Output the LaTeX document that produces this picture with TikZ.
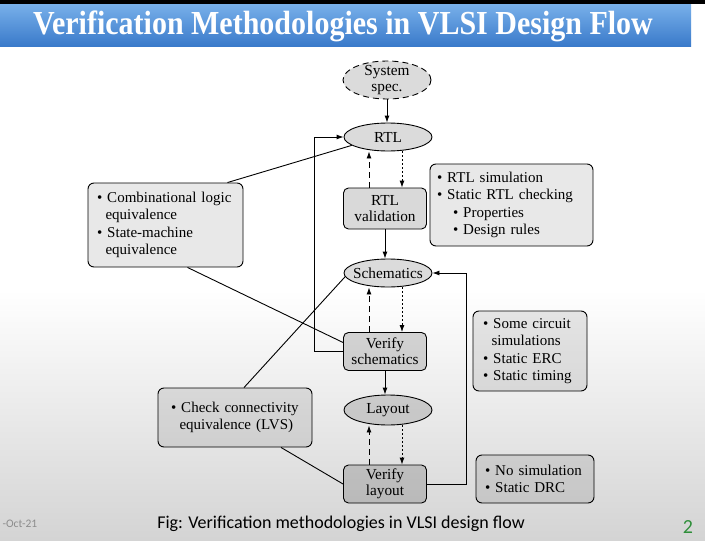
\documentclass[tikz,border=0pt]{standalone}
\usepackage{fontspec}
\setmainfont{Liberation Serif}
\newfontfamily\footfont{Carlito}
\usetikzlibrary{shapes.geometric,arrows.meta}
\definecolor{barTop}{HTML}{78B0EA}
\definecolor{barBot}{HTML}{3A7ACA}
\definecolor{pgGreen}{HTML}{2F8F3A}
\newcommand\mybul{\textbullet\ }
\newcommand\myind{\hspace*{8.5pt}}
\newcommand\myline[1]{\mbox{#1}}
\begin{document}
\begin{tikzpicture}[x=1pt,y=-1pt,
 proc/.style={draw,line width=0.9pt,rounded corners=5pt,fill=black,fill opacity=0.15,text opacity=1,draw opacity=1,align=center,inner sep=0pt,minimum width=83pt,font=\fontsize{15.3}{16}\selectfont},
 ell/.style={ellipse,draw,line width=0.9pt,fill=black,fill opacity=0.14,text opacity=1,draw opacity=1,align=center,inner sep=0pt,minimum width=88pt,font=\fontsize{15.3}{16}\selectfont},
 note/.style={draw,line width=0.9pt,rounded corners=6pt,fill=black,fill opacity=0.09,text opacity=1,draw opacity=1,align=left,inner ysep=0pt,font=\fontsize{15}{17.3}\selectfont},
 arr/.style={line width=0.9pt,-{Latex[length=7pt,width=5pt]}},
 conn/.style={line width=0.9pt},
 dsh/.style={dash pattern=on 6pt off 4pt},
 dtt/.style={dash pattern=on 2pt off 2pt}]

\useasboundingbox (0,0) rectangle (705,541);
\fill[white] (0,0) rectangle (705,541);
\shade[top color=white,bottom color=black!17] (0,290) rectangle (705,541);
\fill[black] (0,0) rectangle (705,4);
\shade[top color=barTop,bottom color=barBot] (0,4) rectangle (691,46);

\node[text=white,font=\bfseries\fontsize{30}{32}\selectfont] (title) at (343,26.5) {\scalebox{1}[1.12]{Verification Methodologies in VLSI Design Flow}};

% main column
\node[ell,dsh,minimum height=38pt,inner sep=-2.5pt] (spec) at (387,80) {System\\spec.};
\node[ell,minimum height=28pt] (rtl) at (388,137) {RTL};
\node[proc,minimum height=41pt] (rtlval) at (385,208.5) {RTL\\validation};
\node[ell,minimum height=28pt,inner xsep=-5pt] (sch) at (388,273) {Schematics};
\node[proc,minimum height=38pt] (vsch) at (385,351.5) {Verify\\schematics};
\node[ell,minimum height=30pt] (lay) at (388,410) {Layout};
\node[proc,minimum height=38pt] (vlay) at (385,484) {Verify\\layout};

% notes
\node[note,text width=137pt,minimum height=84pt,inner xsep=9pt] (comb) at (165.5,225) {\myline{\mybul Combinational logic}\\\myline{\myind equivalence}\\\myline{\mybul State-machine}\\\myline{\myind equivalence}};
\node[note,text width=149pt,minimum height=82pt,inner xsep=7pt] (rtlsim) at (511.5,205) {\myline{\mybul RTL simulation}\\\myline{\mybul Static RTL checking}\\\myline{\hspace*{16pt}\mybul Properties}\\\myline{\hspace*{16pt}\mybul Design rules}};
\node[note,text width=94pt,minimum height=80pt,inner xsep=10pt] (circ) at (530,351) {\myline{\mybul Some circuit}\\\myline{\myind simulations}\\\myline{\mybul Static ERC}\\\myline{\mybul Static timing}};
\node[note,text width=128pt,minimum height=59pt,inner xsep=13pt] (check) at (235,417.5) {\myline{\mybul Check connectivity}\\\myline{\myind equivalence (LVS)}};
\node[note,text width=100pt,minimum height=48pt,inner xsep=9pt] (nosim) at (535,479) {\myline{\mybul No simulation}\\\myline{\mybul Static DRC}};

% main arrows
\draw[arr] (spec.south) -- (spec.south |- rtl.north);
\draw[arr] (rtlval.south) -- (rtlval.south |- sch.north);
\draw[arr] (vsch.south) -- (vsch.south |- lay.north);

% validation loops
\draw[arr,dsh] ([xshift=-16pt]rtlval.north) -- ([xshift=-16pt]rtlval.north |- rtl.south);
\draw[arr,dtt] ([xshift=17pt]rtlval.north |- rtl.south) -- ([xshift=17pt]rtlval.north);
\draw[arr,dsh] ([xshift=-16pt]vsch.north) -- ([xshift=-16pt]vsch.north |- sch.south);
\draw[arr,dtt] ([xshift=17pt]vsch.north |- sch.south) -- ([xshift=17pt]vsch.north);
\draw[arr,dsh] ([xshift=-16pt]vlay.north) -- ([xshift=-16pt]vlay.north |- lay.south);
\draw[arr,dtt] ([xshift=17pt]vlay.north |- lay.south) -- ([xshift=17pt]vlay.north);

% feedback loops
\coordinate (lx) at (314,0);
\coordinate (rx) at (466,0);
\draw[arr] (vsch.west) -- (vsch.west -| lx) |- (rtl.west);
\draw[arr] (vlay.east) -- (vlay.east -| rx) |- (sch.east);

% note connectors
\draw[conn] ([xshift=-16pt]comb.north east) -- (rtl.193);
\draw[conn] ([xshift=22pt]comb.south) -- ([yshift=9pt]vsch.west);
\draw[conn] ([xshift=9pt]check.north) -- (sch.185);
\draw[conn] ([xshift=46pt]check.south) -- (vlay.west);

% footer
\node[font=\footfont\fontsize{18}{20}\selectfont] (cap) at (341,524) {Fig: Verification methodologies in VLSI design flow};
\node[font=\footfont\fontsize{20}{22}\selectfont,text=pgGreen] (pg) at (688,527) {2};
\node[anchor=west,font=\footfont\fontsize{11.5}{12}\selectfont,text=black!45] (date) at (-1,524) {-Oct-21};
\end{tikzpicture}
\end{document}
